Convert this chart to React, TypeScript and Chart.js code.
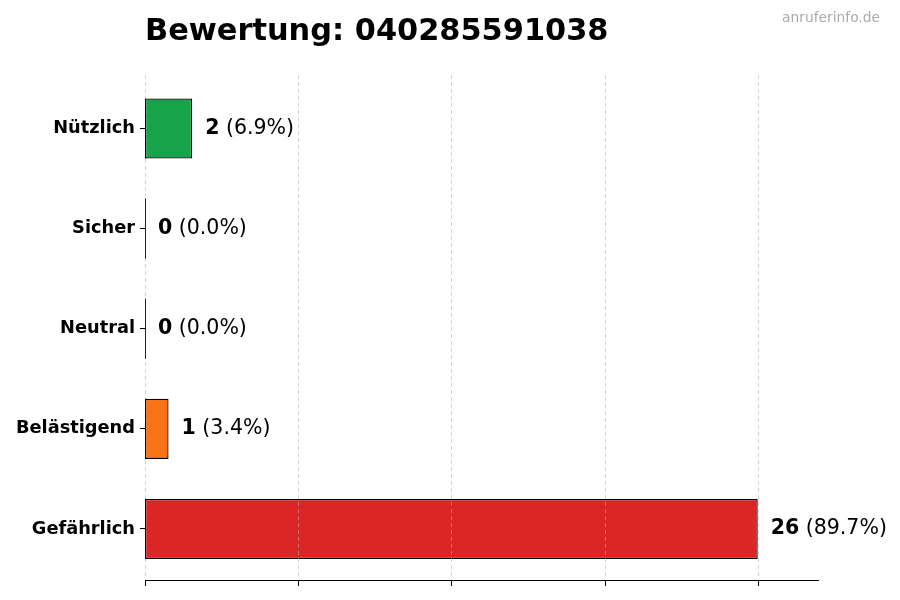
import React, { useEffect, useRef } from 'react';
import { Chart, registerables } from 'chart.js';

Chart.register(...registerables);

const TITLE = 'Bewertung: 040285591038';
const WATERMARK = 'anruferinfo.de';

const categories = ['Nützlich', 'Sicher', 'Neutral', 'Belästigend', 'Gefährlich'];
const counts = [2, 0, 0, 1, 26];
const barColors = ['#16a34a', '#2563eb', '#9ca3af', '#f97316', '#dc2626'];
const xTicks = [0, 6.5, 13, 19.5, 26];
const xMax = 28.6;

const FONT = "'DejaVu Sans', sans-serif";
const SPINE_Y = 580;

const App: React.FC = () => {
  const chartRef = useRef<HTMLCanvasElement>(null);
  const chartInstance = useRef<Chart | null>(null);

  useEffect(() => {
    document.body.style.margin = '0';
    if (!chartRef.current) return;

    if (chartInstance.current) {
      chartInstance.current.destroy();
    }

    const total = counts.reduce((a, b) => a + b, 0);

    // dashed grid on top of the bars, bottom spine, zero edges, value labels
    const overlay = {
      id: 'overlay',
      afterDatasetsDraw(chart: Chart) {
        const { ctx, chartArea } = chart;
        const xScale = chart.scales.x;

        ctx.save();
        ctx.strokeStyle = 'rgba(176,176,176,0.55)';
        ctx.lineWidth = 1;
        ctx.setLineDash([4, 3]);
        xTicks.forEach((v) => {
          const px = Math.round(xScale.getPixelForValue(v)) + 0.5;
          ctx.beginPath();
          ctx.moveTo(px, 75);
          ctx.lineTo(px, SPINE_Y);
          ctx.stroke();
        });
        ctx.setLineDash([]);

        // bottom spine and tick marks
        ctx.strokeStyle = '#000';
        ctx.lineWidth = 1;
        ctx.beginPath();
        ctx.moveTo(chartArea.left, SPINE_Y + 0.5);
        ctx.lineTo(chartArea.right, SPINE_Y + 0.5);
        ctx.stroke();
        xTicks.forEach((v) => {
          const px = Math.round(xScale.getPixelForValue(v)) + 0.5;
          ctx.beginPath();
          ctx.moveTo(px, SPINE_Y);
          ctx.lineTo(px, SPINE_Y + 6);
          ctx.stroke();
        });

        const meta = chart.getDatasetMeta(0);
        meta.data.forEach((el: any, i: number) => {
          const { x, y, base, height } = el.getProps(['x', 'y', 'base', 'height'], true);

          // left edge of each bar (visible even for zero-length bars)
          ctx.strokeStyle = 'rgba(0,0,0,0.85)';
          ctx.lineWidth = 1;
          ctx.beginPath();
          ctx.moveTo(Math.round(base) + 0.5, y - height / 2);
          ctx.lineTo(Math.round(base) + 0.5, y + height / 2);
          ctx.stroke();

          const valueText = String(counts[i]);
          const pctText = ` (${((counts[i] / total) * 100).toFixed(1)}%)`;
          const tx = x + 13;
          ctx.textBaseline = 'middle';
          ctx.textAlign = 'left';
          ctx.fillStyle = '#000';
          ctx.font = `bold 20.5px ${FONT}`;
          ctx.fillText(valueText, tx, y);
          const w = ctx.measureText(valueText).width;
          ctx.font = `20.5px ${FONT}`;
          ctx.fillText(pctText, tx + w, y);
        });
        ctx.restore();
      },
      afterDraw(chart: Chart) {
        const { ctx, chartArea } = chart;
        ctx.save();
        ctx.fillStyle = '#000';
        ctx.textAlign = 'left';
        ctx.textBaseline = 'alphabetic';
        ctx.font = `bold 30.4px ${FONT}`;
        ctx.fillText(TITLE, chartArea.left, 40);

        ctx.fillStyle = '#aaaaaa';
        ctx.textAlign = 'right';
        ctx.font = `13.8px ${FONT}`;
        ctx.fillText(WATERMARK, 880, 22);
        ctx.restore();
      },
    };

    const ctx = chartRef.current.getContext('2d');
    if (ctx) {
      chartInstance.current = new Chart(ctx, {
        type: 'bar',
        data: {
          labels: categories,
          datasets: [
            {
              label: 'Bewertungen',
              data: counts,
              backgroundColor: barColors,
              borderColor: '#000',
              borderWidth: 1.3,
              borderSkipped: false,
              barPercentage: 0.6,
              categoryPercentage: 1,
            },
          ],
        },
        options: {
          indexAxis: 'y',
          responsive: false,
          animation: false,
          layout: {
            padding: { top: 78.5, right: 81, bottom: 13, left: 0 },
          },
          plugins: {
            legend: { display: false },
            tooltip: { enabled: false },
            title: { display: false },
          },
          scales: {
            x: {
              min: 0,
              max: xMax,
              afterBuildTicks: (scale: any) => {
                scale.ticks = xTicks.map((v) => ({ value: v }));
              },
              ticks: { display: false },
              grid: { display: false },
              border: { display: false },
            },
            y: {
              afterFit: (scale: any) => {
                scale.width = 145;
              },
              ticks: {
                color: '#000',
                padding: 5,
                font: { family: FONT, size: 17.8, weight: 'bold' },
              },
              grid: {
                drawOnChartArea: false,
                drawTicks: true,
                offset: false,
                tickLength: 5,
                tickColor: '#000',
                tickWidth: 1,
              },
              border: { display: false },
            },
          },
        },
        plugins: [overlay],
      });
    }

    return () => {
      if (chartInstance.current) {
        chartInstance.current.destroy();
        chartInstance.current = null;
      }
    };
  }, []);

  return (
    <div style={{ width: 900, height: 600, background: '#fff' }}>
      <canvas ref={chartRef} width={900} height={600}></canvas>
    </div>
  );
};

export default App;
